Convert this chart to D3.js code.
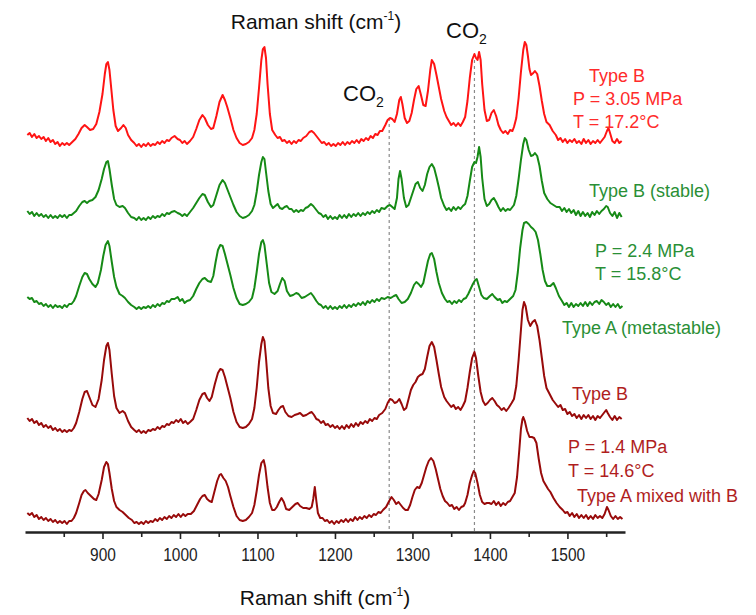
<!DOCTYPE html>
<html><head><meta charset="utf-8">
<script src="https://cdn.jsdelivr.net/npm/d3@7/dist/d3.min.js"></script>
<style>html,body{margin:0;padding:0;background:#fff;}svg{display:block;font-family:Arial,"Liberation Sans",sans-serif;}</style>
</head><body>
<svg id="chart" width="756" height="615"></svg>
<script>
// ---------- DATA ----------
const xDomain = [800, 1574.3];
const xTicksMajor = [900, 1000, 1100, 1200, 1300, 1400, 1500];
const xTicksMinor = [850, 950, 1050, 1150, 1250, 1350, 1450, 1550];
const co2Lines = [1270, 1380];
const axisTitle = "Raman shift (cm";
const axisTitleSup = "-1";

// spectra: [wavenumber (cm-1), intensity (a.u.)]
const specTypeB_305 = [[803,11],[806,13],[809,9],[812,12],[815,8],[818,10],[821,7],[824,9],[827,5],[830,8],[833,4],[836,6],[839,2],[842,4],[845,0],[848,3],[851,1],[854,3],[857,1],[861,4],[865,7],[869,12],[873,18],[877,21],[880,19],[884,16],[888,17],[892,22],[896,34],[900,52],[903,72],[905,82],[907,84],[909,76],[911,60],[914,36],[917,20],[920,15],[924,18],[927,21],[930,18],[933,11],[937,6],[941,3],[944,0],[947,2],[950,-1],[953,2],[956,0],[959,3],[962,0],[965,2],[968,1],[971,4],[974,2],[977,5],[980,3],[983,6],[986,5],[989,8],[993,10],[997,7],[1000,6],[1003,3],[1006,5],[1009,2],[1013,5],[1017,9],[1021,17],[1025,26],[1029,31],[1032,28],[1036,21],[1040,17],[1043,18],[1047,30],[1051,44],[1055,51],[1058,46],[1061,39],[1065,28],[1069,16],[1073,8],[1077,3],[1081,1],[1085,2],[1089,4],[1093,8],[1096,16],[1099,32],[1102,58],[1105,86],[1107,97],[1109,99],[1111,88],[1113,62],[1116,32],[1119,16],[1123,11],[1126,8],[1129,9],[1132,5],[1135,6],[1138,3],[1141,5],[1144,2],[1147,5],[1150,3],[1153,6],[1156,5],[1159,8],[1163,10],[1167,14],[1170,15],[1173,13],[1177,9],[1180,6],[1183,3],[1186,4],[1189,1],[1192,3],[1195,0],[1198,2],[1201,0],[1204,3],[1207,1],[1210,4],[1213,1],[1216,4],[1219,2],[1222,5],[1225,3],[1228,6],[1231,3],[1234,7],[1237,5],[1240,8],[1243,6],[1246,10],[1249,8],[1252,12],[1255,11],[1258,15],[1261,15],[1265,21],[1268,26],[1271,28],[1274,27],[1277,24],[1280,32],[1283,46],[1285,49],[1287,42],[1290,28],[1293,23],[1296,25],[1299,33],[1302,46],[1305,57],[1308,60],[1311,51],[1314,41],[1317,40],[1320,55],[1323,76],[1325,86],[1328,82],[1331,71],[1334,59],[1337,47],[1341,35],[1344,29],[1347,25],[1350,21],[1353,23],[1356,20],[1359,23],[1362,20],[1365,24],[1368,29],[1371,45],[1374,68],[1377,86],[1380,92],[1382,88],[1384,86],[1386,94],[1388,86],[1390,62],[1393,36],[1396,25],[1399,26],[1402,33],[1405,36],[1408,30],[1411,21],[1414,16],[1417,13],[1420,15],[1423,12],[1426,16],[1429,15],[1431,19],[1434,28],[1437,48],[1440,74],[1443,96],[1445,104],[1447,101],[1449,90],[1451,77],[1453,71],[1456,73],[1458,75],[1461,72],[1464,60],[1467,45],[1470,32],[1473,24],[1477,21],[1481,15],[1485,11],[1488,6],[1491,8],[1494,4],[1497,7],[1500,3],[1503,6],[1506,4],[1509,7],[1512,3],[1515,5],[1518,2],[1521,7],[1524,3],[1527,6],[1530,2],[1533,5],[1536,3],[1539,6],[1542,3],[1545,6],[1548,9],[1551,15],[1553,18],[1555,13],[1558,5],[1561,3],[1564,7],[1567,3],[1570,5]];

const specTypeB_stable = [[803,8],[806,5],[809,7],[812,3],[815,6],[818,3],[821,5],[824,2],[827,4],[830,1],[833,4],[836,1],[839,3],[842,1],[845,4],[848,2],[851,4],[854,1],[857,4],[860,4],[863,6],[866,8],[870,13],[874,17],[877,18],[880,16],[883,18],[887,19],[891,22],[895,29],[899,40],[902,50],[905,57],[907,58],[909,50],[912,34],[915,20],[918,14],[922,12],[926,13],[929,11],[933,6],[937,2],[941,1],[944,-1],[947,2],[950,-1],[953,1],[956,-1],[959,2],[962,0],[965,3],[968,1],[971,3],[974,2],[977,5],[980,3],[983,6],[986,5],[989,7],[993,8],[997,6],[1000,5],[1003,3],[1006,5],[1009,3],[1013,7],[1017,11],[1021,16],[1025,21],[1029,25],[1032,24],[1036,17],[1040,12],[1043,14],[1047,24],[1051,34],[1055,39],[1058,36],[1061,30],[1065,22],[1069,14],[1073,7],[1077,3],[1081,1],[1085,2],[1089,4],[1093,8],[1096,14],[1099,27],[1102,44],[1105,57],[1107,62],[1109,60],[1111,47],[1114,28],[1117,15],[1120,11],[1123,13],[1126,15],[1129,11],[1132,10],[1135,12],[1138,13],[1141,10],[1144,10],[1147,7],[1150,9],[1153,7],[1156,9],[1159,8],[1162,11],[1165,12],[1169,15],[1172,13],[1176,9],[1179,6],[1182,5],[1185,2],[1188,4],[1191,0],[1194,3],[1197,0],[1200,2],[1203,0],[1206,4],[1209,1],[1212,4],[1215,1],[1218,5],[1221,2],[1224,5],[1227,3],[1230,6],[1233,3],[1236,6],[1239,4],[1242,7],[1245,5],[1248,8],[1251,6],[1254,9],[1257,7],[1260,11],[1264,10],[1268,13],[1271,14],[1274,12],[1277,10],[1280,21],[1282,40],[1284,48],[1286,40],[1289,21],[1292,12],[1295,14],[1298,21],[1301,28],[1304,35],[1307,37],[1310,31],[1313,28],[1316,34],[1319,45],[1322,52],[1325,55],[1328,51],[1331,42],[1334,32],[1337,21],[1341,13],[1344,9],[1347,11],[1350,8],[1353,12],[1356,9],[1359,12],[1362,10],[1365,13],[1368,15],[1371,23],[1374,38],[1377,52],[1380,57],[1382,56],[1384,62],[1386,72],[1388,62],[1390,41],[1393,20],[1396,13],[1399,15],[1402,19],[1405,21],[1408,17],[1411,12],[1414,8],[1417,11],[1420,8],[1423,10],[1426,9],[1429,12],[1431,14],[1434,23],[1437,40],[1440,59],[1443,75],[1445,81],[1447,79],[1450,69],[1453,63],[1456,64],[1458,66],[1461,63],[1464,53],[1467,38],[1470,26],[1474,20],[1478,16],[1482,14],[1486,12],[1490,12],[1493,8],[1496,11],[1499,7],[1502,10],[1505,6],[1508,9],[1511,4],[1514,8],[1517,3],[1520,7],[1523,3],[1526,6],[1529,2],[1532,7],[1535,4],[1538,8],[1541,5],[1544,8],[1547,10],[1550,13],[1552,12],[1555,6],[1558,3],[1561,7],[1564,1],[1567,6],[1570,2]];

const specTypeA_meta = [[803,11],[806,9],[809,10],[812,6],[815,7],[818,4],[821,5],[824,2],[827,4],[830,1],[833,3],[836,0],[839,3],[842,1],[845,2],[848,0],[851,3],[854,1],[857,4],[860,4],[863,7],[866,12],[870,22],[874,31],[877,35],[880,34],[883,29],[887,24],[891,21],[894,25],[898,38],[901,52],[904,63],[907,67],[909,62],[912,46],[915,31],[918,21],[922,14],[926,12],[929,10],[933,6],[937,3],[941,1],[944,-1],[947,1],[950,-1],[953,1],[956,0],[959,2],[962,0],[965,3],[968,1],[971,4],[974,2],[977,5],[980,4],[983,7],[986,6],[989,9],[993,9],[997,11],[1000,7],[1003,9],[1006,5],[1009,7],[1013,8],[1017,12],[1021,19],[1025,25],[1029,29],[1032,30],[1036,27],[1040,26],[1043,32],[1046,46],[1049,58],[1052,63],[1055,62],[1058,54],[1061,45],[1065,33],[1069,20],[1073,10],[1077,4],[1081,3],[1085,4],[1089,6],[1093,10],[1096,20],[1099,36],[1102,54],[1105,66],[1107,68],[1109,63],[1112,44],[1115,25],[1118,16],[1122,14],[1126,17],[1129,24],[1132,30],[1135,27],[1138,17],[1142,12],[1146,13],[1150,15],[1153,14],[1157,10],[1161,11],[1165,13],[1169,15],[1172,12],[1176,7],[1179,4],[1182,3],[1185,0],[1188,2],[1191,-1],[1194,2],[1197,-1],[1200,1],[1203,-1],[1206,2],[1209,0],[1212,3],[1215,0],[1218,3],[1221,1],[1224,4],[1227,2],[1230,5],[1233,3],[1236,6],[1239,3],[1242,7],[1245,5],[1248,8],[1251,6],[1254,9],[1257,7],[1260,10],[1264,9],[1268,11],[1272,10],[1276,12],[1279,13],[1282,9],[1286,5],[1290,6],[1294,9],[1298,15],[1302,23],[1305,26],[1308,24],[1311,21],[1314,25],[1317,36],[1320,47],[1323,54],[1325,55],[1328,49],[1331,36],[1334,25],[1338,15],[1342,9],[1345,6],[1348,7],[1351,4],[1354,7],[1357,5],[1360,8],[1363,6],[1366,9],[1369,10],[1372,14],[1375,19],[1378,24],[1381,28],[1383,29],[1386,21],[1389,13],[1392,10],[1396,9],[1400,12],[1403,14],[1406,11],[1410,8],[1413,9],[1416,5],[1419,7],[1422,6],[1426,9],[1430,12],[1433,18],[1436,36],[1439,60],[1442,78],[1444,85],[1447,86],[1450,84],[1453,81],[1456,79],[1459,76],[1462,68],[1465,54],[1468,38],[1471,27],[1474,22],[1478,22],[1482,25],[1485,20],[1489,12],[1493,7],[1496,3],[1499,5],[1502,1],[1505,5],[1508,1],[1511,4],[1514,2],[1517,5],[1520,2],[1523,6],[1526,2],[1529,6],[1532,3],[1535,6],[1538,7],[1541,4],[1544,8],[1547,6],[1550,3],[1553,5],[1556,1],[1559,4],[1562,1],[1565,4],[1568,0],[1571,2]];

const specTypeB_14 = [[803,14],[806,11],[809,13],[812,9],[815,11],[818,7],[821,9],[824,5],[827,7],[830,4],[833,6],[836,2],[839,4],[842,1],[845,3],[848,0],[851,2],[854,0],[857,2],[860,1],[863,4],[866,9],[870,20],[874,33],[877,40],[880,41],[883,35],[887,27],[891,25],[895,33],[899,52],[902,72],[905,86],[907,89],[909,82],[912,58],[915,36],[918,24],[922,19],[926,21],[929,19],[933,11],[937,5],[941,2],[944,0],[947,2],[950,-1],[953,1],[956,-1],[959,2],[962,1],[965,3],[968,2],[971,5],[974,3],[977,6],[980,5],[983,8],[986,7],[989,10],[992,9],[995,12],[998,10],[1001,13],[1004,9],[1007,11],[1010,8],[1013,10],[1017,13],[1021,22],[1025,32],[1029,38],[1032,39],[1035,34],[1038,31],[1041,35],[1045,48],[1049,59],[1052,63],[1055,62],[1058,55],[1061,46],[1065,34],[1069,20],[1073,10],[1077,5],[1081,4],[1085,5],[1089,8],[1093,13],[1096,24],[1099,44],[1102,70],[1105,88],[1107,95],[1109,91],[1111,74],[1114,44],[1117,26],[1120,19],[1124,18],[1127,22],[1130,25],[1133,26],[1136,20],[1140,16],[1144,15],[1148,17],[1152,18],[1155,19],[1159,16],[1163,17],[1167,19],[1170,20],[1173,17],[1176,13],[1179,12],[1182,9],[1185,11],[1188,7],[1191,8],[1194,5],[1197,7],[1200,4],[1203,6],[1206,3],[1209,6],[1212,3],[1215,7],[1218,4],[1221,8],[1224,5],[1227,9],[1230,6],[1233,10],[1236,8],[1239,11],[1242,9],[1245,13],[1248,11],[1251,14],[1254,13],[1257,17],[1261,19],[1265,23],[1268,29],[1271,33],[1274,32],[1277,29],[1280,30],[1283,33],[1286,28],[1289,22],[1292,24],[1295,33],[1298,42],[1301,47],[1304,50],[1307,55],[1310,57],[1313,58],[1316,63],[1319,75],[1322,86],[1325,90],[1328,85],[1331,72],[1334,58],[1337,45],[1341,35],[1344,31],[1347,28],[1350,25],[1353,27],[1356,23],[1359,25],[1362,22],[1365,26],[1368,31],[1371,44],[1374,60],[1377,74],[1380,80],[1382,74],[1385,56],[1388,40],[1391,31],[1394,27],[1397,29],[1400,32],[1403,34],[1406,31],[1409,27],[1412,25],[1415,22],[1418,24],[1421,21],[1424,24],[1428,29],[1431,33],[1434,46],[1437,72],[1440,102],[1442,122],[1444,130],[1446,126],[1449,112],[1452,106],[1455,110],[1458,112],[1461,106],[1464,92],[1467,74],[1470,56],[1473,44],[1477,38],[1481,32],[1485,28],[1488,25],[1491,27],[1494,22],[1497,23],[1500,18],[1503,20],[1506,16],[1509,18],[1512,14],[1515,17],[1518,13],[1521,17],[1524,14],[1527,17],[1530,13],[1533,16],[1536,12],[1539,16],[1542,14],[1545,17],[1548,20],[1550,22],[1552,19],[1555,15],[1558,12],[1561,16],[1564,12],[1567,15],[1570,13]];

const specTypeAmixB = [[803,10],[806,8],[809,10],[812,6],[815,8],[818,4],[821,6],[824,3],[827,5],[830,2],[833,4],[836,1],[839,3],[842,0],[845,2],[848,0],[851,2],[854,-1],[857,2],[860,2],[863,5],[866,10],[870,20],[873,28],[876,32],[878,33],[881,30],[885,27],[889,24],[892,23],[895,29],[899,43],[902,56],[905,61],[907,59],[909,50],[912,34],[915,22],[918,16],[922,13],[926,11],[930,8],[934,5],[938,3],[941,0],[944,1],[947,-1],[950,1],[953,-1],[956,2],[959,0],[962,2],[965,1],[968,4],[971,2],[974,5],[977,3],[980,6],[983,4],[986,7],[989,5],[992,8],[995,6],[998,9],[1001,6],[1004,9],[1007,7],[1010,9],[1014,9],[1018,12],[1022,18],[1026,24],[1029,27],[1032,28],[1035,24],[1038,22],[1041,21],[1044,30],[1048,42],[1051,48],[1053,49],[1056,45],[1059,42],[1062,36],[1065,27],[1069,16],[1073,7],[1077,3],[1081,2],[1085,3],[1089,6],[1093,10],[1096,18],[1099,32],[1102,48],[1105,60],[1108,63],[1110,56],[1113,36],[1116,20],[1119,13],[1122,13],[1125,16],[1128,21],[1131,25],[1134,21],[1137,14],[1141,13],[1145,16],[1149,19],[1152,20],[1155,17],[1159,15],[1163,15],[1167,14],[1170,16],[1172,24],[1174,36],[1176,22],[1178,10],[1181,5],[1184,5],[1187,2],[1190,3],[1193,0],[1196,2],[1199,-1],[1202,2],[1205,0],[1208,3],[1211,1],[1214,4],[1217,1],[1220,4],[1223,2],[1226,6],[1229,3],[1232,6],[1235,4],[1238,7],[1241,5],[1244,8],[1247,6],[1250,9],[1253,8],[1256,11],[1259,10],[1262,13],[1266,16],[1270,22],[1273,26],[1276,23],[1279,19],[1282,21],[1285,18],[1288,15],[1291,13],[1294,13],[1297,18],[1300,26],[1303,33],[1306,36],[1309,35],[1312,40],[1315,48],[1318,56],[1321,62],[1324,65],[1327,62],[1330,54],[1333,44],[1336,34],[1339,27],[1342,22],[1345,20],[1348,17],[1351,18],[1354,14],[1357,16],[1360,13],[1363,16],[1366,17],[1368,20],[1371,28],[1374,40],[1377,48],[1379,52],[1381,50],[1384,40],[1387,28],[1390,21],[1393,19],[1396,20],[1399,20],[1402,19],[1405,22],[1408,18],[1411,21],[1414,17],[1417,20],[1420,18],[1423,21],[1426,22],[1429,26],[1432,30],[1435,46],[1438,74],[1440,94],[1442,104],[1443,106],[1445,102],[1448,92],[1451,86],[1454,86],[1457,85],[1460,80],[1463,64],[1466,50],[1469,42],[1472,38],[1475,34],[1478,31],[1482,25],[1486,20],[1490,16],[1494,13],[1497,10],[1500,11],[1503,7],[1506,10],[1509,6],[1512,9],[1515,5],[1518,8],[1521,5],[1524,8],[1527,4],[1530,7],[1533,4],[1536,8],[1539,5],[1542,7],[1545,5],[1548,9],[1551,16],[1553,13],[1556,7],[1559,4],[1562,7],[1565,4],[1568,6],[1571,4]];

// vertical stacking offsets (a.u.)
const seriesData    = [specTypeAmixB, specTypeB_14, specTypeA_meta, specTypeB_stable, specTypeB_305];
const seriesOffsets = [9, 100, 224, 313, 386];
const seriesColorKey = ["dark", "dark", "green", "green", "red"];

// ---------- DRAW ----------
const colors = {red: "#ff1414", green: "#168a16", dark: "#980a0a"};
const labelColors = {red: "#ff2b2b", green: "#2a8f36", dark: "#b01e1e"};

const svg = d3.select("#chart");
const x = d3.scaleLinear().domain(xDomain).range([25, 625]);
const y = d3.scaleLinear().domain([0, 500]).range([532, 32]);

// dashed CO2 lines, from the top spectrum down to the axis
const topSpec = specTypeB_305, topOff = seriesOffsets[4];
co2Lines.forEach(v => {
  const p = topSpec.reduce((a, b) => Math.abs(b[0] - v) < Math.abs(a[0] - v) ? b : a);
  svg.append("line")
    .attr("x1", x(v)).attr("x2", x(v))
    .attr("y1", y(p[1] + topOff)).attr("y2", y(0))
    .attr("stroke", "#8a8a8a").attr("stroke-width", 1.2)
    .attr("stroke-dasharray", "3,3");
});

const line = d3.line().x(d => x(d[0]));
seriesData.forEach((s, i) => {
  const off = seriesOffsets[i];
  svg.append("path")
    .datum(s)
    .attr("fill", "none")
    .attr("stroke", colors[seriesColorKey[i]])
    .attr("stroke-width", 2)
    .attr("stroke-linejoin", "round")
    .attr("d", line.y(d => y(d[1] + off)));
});

// x axis
const axisG = svg.append("g").attr("transform", `translate(0,${y(0)})`);
axisG.call(d3.axisBottom(x).tickValues(xTicksMajor).tickSize(7).tickSizeOuter(0).tickPadding(9).tickFormat(d3.format("d")));
axisG.select(".domain").attr("stroke", "#222").attr("stroke-width", 2.4);
axisG.selectAll(".tick line").attr("stroke", "#222").attr("stroke-width", 1.6);
axisG.selectAll(".tick text")
  .attr("font-size", 18).attr("fill", "#222")
  .attr("font-family", "Arial, 'Liberation Sans', sans-serif")
  .attr("transform", "scale(0.86,1)");
const minorG = svg.append("g").attr("transform", `translate(0,${y(0)})`);
minorG.call(d3.axisBottom(x).tickValues(xTicksMinor).tickSize(5).tickSizeOuter(0).tickFormat(""));
minorG.select(".domain").remove();
minorG.selectAll(".tick line").attr("stroke", "#222").attr("stroke-width", 1.6);

// axis titles (top and bottom)
function axisTitleText(cx, by) {
  const t = svg.append("text").attr("x", cx).attr("y", by)
    .attr("text-anchor", "middle").attr("font-size", 21).attr("fill", "#111");
  t.append("tspan").text(axisTitle);
  t.append("tspan").attr("font-size", 12).attr("dy", -9).text(axisTitleSup);
  t.append("tspan").attr("dy", 9).text(")");
}
axisTitleText(316, 29);
axisTitleText(325, 605);

// CO2 labels
function co2Label(px, by) {
  const t = svg.append("text").attr("x", px).attr("y", by).attr("font-size", 22).attr("fill", "#111");
  t.append("tspan").text("CO");
  t.append("tspan").attr("font-size", 14).attr("dy", 6).text("2");
}
co2Label(343, 101);
co2Label(446, 38);

// sample labels
const labelSpecs = [
  ["Type B", 589, 82, "red"], ["P = 3.05 MPa", 573, 105, "red"], ["T = 17.2°C", 573, 128, "red"],
  ["Type B (stable)", 589, 197, "green"], ["P = 2.4 MPa", 595, 257, "green"], ["T = 15.8°C", 595, 280, "green"],
  ["Type A (metastable)", 562, 334, "green"],
  ["Type B", 572, 400, "dark"], ["P = 1.4 MPa", 568, 453, "dark"], ["T = 14.6°C", 568, 477, "dark"],
  ["Type A mixed with B", 577, 502, "dark"]
];
labelSpecs.forEach(([txt, px, by, c]) => {
  svg.append("text").attr("x", px).attr("y", by).attr("font-size", 18)
    .attr("fill", labelColors[c]).text(txt);
});
</script>
</body></html>
